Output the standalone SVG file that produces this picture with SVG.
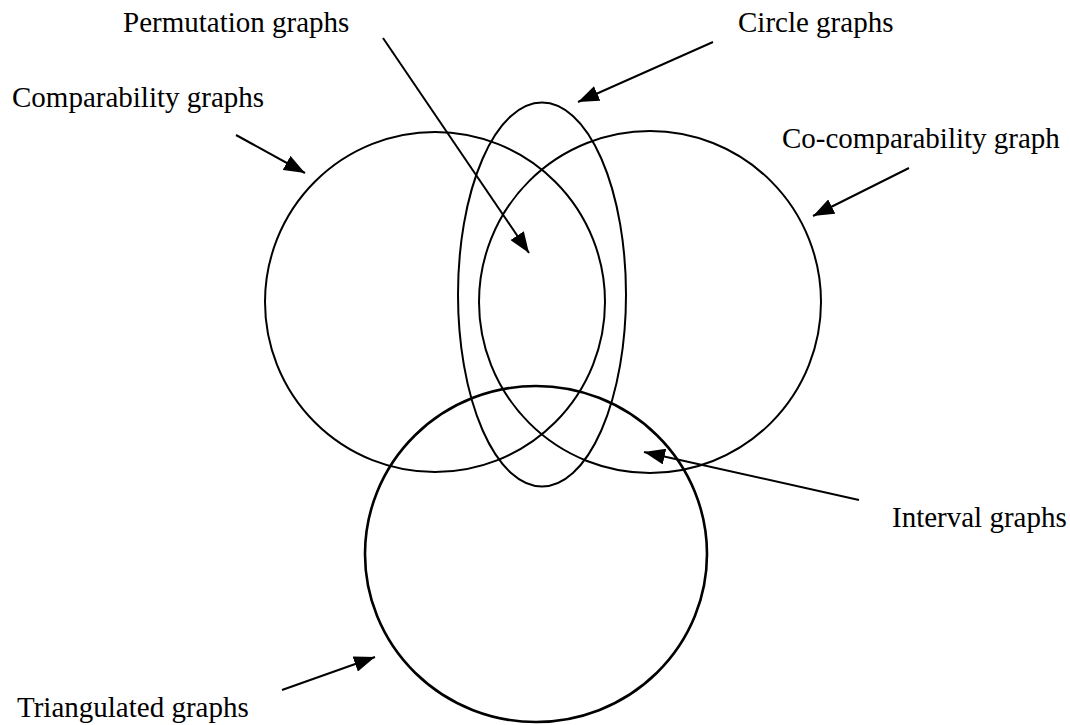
<svg xmlns="http://www.w3.org/2000/svg" width="1070" height="725" viewBox="0 0 1070 725">
<style>
.shape{fill:none;stroke:#000;stroke-width:2}
.thick{stroke-width:2.6}
.conn{stroke:#000;stroke-width:2;fill:none;marker-end:url(#ah)}
text{font-family:"Liberation Serif","Times New Roman",serif;font-size:29px;fill:#000}
</style>
<defs>
<marker id="ah" markerUnits="userSpaceOnUse" markerWidth="22" markerHeight="16" refX="21" refY="8" orient="auto">
<path d="M0,0 L21,8 L0,16 z" fill="#000"/>
</marker>
</defs>
<rect width="1070" height="725" fill="#fff"/>
<g id="comparability">
<circle class="shape" cx="435" cy="302" r="170"/>
<text x="12" y="107">Comparability graphs</text>
</g>
<g id="cocomparability">
<circle class="shape" cx="650" cy="302" r="171"/>
<text x="782" y="148">Co-comparability graph</text>
</g>
<g id="circle">
<ellipse class="shape" cx="542" cy="294.5" rx="84" ry="192"/>
<text x="738" y="32">Circle graphs</text>
</g>
<g id="triangulated">
<ellipse class="shape thick" cx="536" cy="554" rx="171" ry="168"/>
<text x="17" y="717">Triangulated graphs</text>
</g>
<g id="permutation">
<text x="123" y="32">Permutation graphs</text>
</g>
<g id="interval">
<text x="892" y="527">Interval graphs</text>
</g>
<g id="connectors">
<line class="conn" x1="383" y1="38" x2="529" y2="253"/>
<line class="conn" x1="713" y1="42" x2="578" y2="102"/>
<line class="conn" x1="236" y1="135" x2="305" y2="173"/>
<line class="conn" x1="909" y1="168" x2="813" y2="216"/>
<line class="conn" x1="859" y1="500" x2="644" y2="452"/>
<line class="conn" x1="282" y1="690" x2="375" y2="657"/>
</g>
</svg>
